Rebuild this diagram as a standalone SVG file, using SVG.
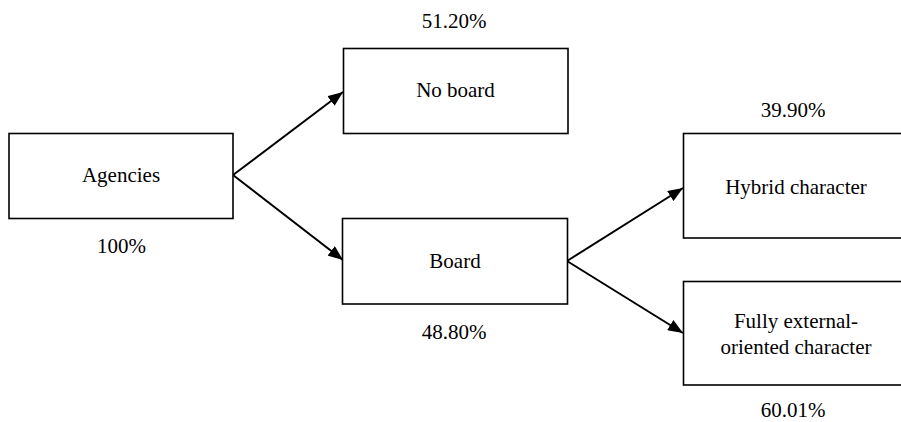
<svg xmlns="http://www.w3.org/2000/svg" width="901" height="422" viewBox="0 0 901 422">
<defs>
<style>
.box{fill:#fff;stroke:#000;stroke-width:1.6}
.t{font-size:21px;fill:#000;text-anchor:middle}
.c{stroke:#000;stroke-width:2;fill:none}
</style>
<marker id="ah" markerUnits="userSpaceOnUse" markerWidth="16" markerHeight="12" viewBox="0 0 16 12" refX="15" refY="6" orient="auto">
<path d="M0,0 L15,6 L0,12 Z" fill="#000"/>
</marker>
</defs>
<rect width="901" height="422" fill="#fff"/>
<g id="connectors">
<line class="c" x1="233" y1="175" x2="343" y2="92" marker-end="url(#ah)"/>
<line class="c" x1="233" y1="175" x2="343" y2="260" marker-end="url(#ah)"/>
<line class="c" x1="567" y1="261" x2="683" y2="188" marker-end="url(#ah)"/>
<line class="c" x1="567" y1="261" x2="683" y2="333" marker-end="url(#ah)"/>
</g>
<g font-family="Liberation Serif, DejaVu Serif, serif">
<g id="agencies">
<rect class="box" x="9" y="133.5" width="224" height="85"/>
<text class="t" x="121" y="182">Agencies</text>
<text class="t" x="121.5" y="253">100%</text>
</g>
<g id="noboard">
<rect class="box" x="343.5" y="48.5" width="224.5" height="85"/>
<text class="t" x="455.5" y="97">No board</text>
<text class="t" x="454" y="28">51.20%</text>
</g>
<g id="board">
<rect class="box" x="342.5" y="218.5" width="225" height="85.5"/>
<text class="t" x="455" y="268">Board</text>
<text class="t" x="454" y="339">48.80%</text>
</g>
<g id="hybrid">
<rect class="box" x="683.5" y="133.5" width="227" height="104.5"/>
<text class="t" x="796" y="194">Hybrid character</text>
<text class="t" x="793" y="117">39.90%</text>
</g>
<g id="fully">
<rect class="box" x="683.5" y="281.5" width="227" height="103.5"/>
<text class="t" x="796" y="328">Fully external-</text>
<text class="t" x="796" y="354">oriented character</text>
<text class="t" x="793" y="417">60.01%</text>
</g>
</g>
</svg>
